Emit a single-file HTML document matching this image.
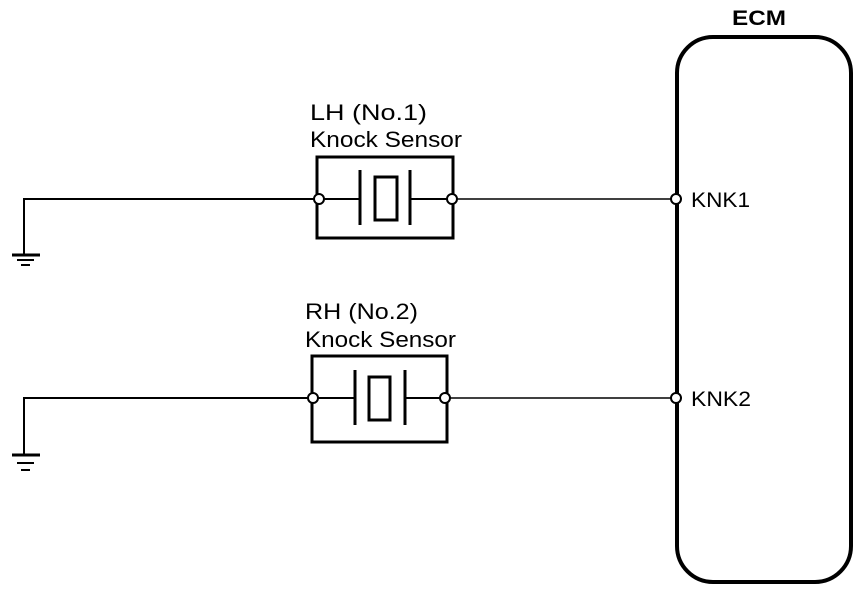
<!DOCTYPE html>
<html><head><style>
html,body{margin:0;padding:0;background:#fff;}
svg{display:block;}
text{font-family:"Liberation Sans",Arial,sans-serif;fill:#000;}
</style></head><body>
<svg width="864" height="592" viewBox="0 0 864 592" xmlns="http://www.w3.org/2000/svg">
<g fill="none" stroke="#000">
<rect x="677" y="37" width="174" height="545" rx="36" ry="36" stroke-width="4"/>
<path d="M24 255 V199 H316" stroke-width="2"/>
<line x1="456" y1="199" x2="672" y2="199" stroke-width="1.5"/>
<rect x="317" y="157" width="136" height="81" stroke-width="3"/>
<line x1="323" y1="199" x2="359" y2="199" stroke-width="2"/>
<line x1="410" y1="199" x2="448" y2="199" stroke-width="2"/>
<line x1="360" y1="170" x2="360" y2="225" stroke-width="3"/>
<line x1="410" y1="170" x2="410" y2="225" stroke-width="3"/>
<rect x="375" y="177" width="22" height="43" stroke-width="3"/>
<circle cx="319" cy="199" r="5" fill="#fff" stroke-width="2"/>
<circle cx="452" cy="199" r="5" fill="#fff" stroke-width="2"/>
<circle cx="676" cy="199" r="5" fill="#fff" stroke-width="2"/>
<line x1="12" y1="255" x2="40" y2="255" stroke-width="3"/>
<line x1="17" y1="260" x2="34" y2="260" stroke-width="2"/>
<line x1="21" y1="265" x2="30" y2="265" stroke-width="2"/>
<path d="M24 455 V398 H310" stroke-width="2"/>
<line x1="450" y1="398" x2="672" y2="398" stroke-width="1.5"/>
<rect x="312" y="356" width="135" height="86" stroke-width="3"/>
<line x1="318" y1="398" x2="355" y2="398" stroke-width="2"/>
<line x1="405" y1="398" x2="442" y2="398" stroke-width="2"/>
<line x1="355" y1="370" x2="355" y2="425" stroke-width="3"/>
<line x1="405" y1="370" x2="405" y2="425" stroke-width="3"/>
<rect x="369" y="377" width="21" height="43" stroke-width="3"/>
<circle cx="313" cy="398" r="5" fill="#fff" stroke-width="2"/>
<circle cx="445" cy="398" r="5" fill="#fff" stroke-width="2"/>
<circle cx="676" cy="398" r="5" fill="#fff" stroke-width="2"/>
<line x1="12" y1="455" x2="40" y2="455" stroke-width="3"/>
<line x1="17" y1="463" x2="34" y2="463" stroke-width="2"/>
<line x1="21" y1="470" x2="30" y2="470" stroke-width="2"/>
</g>
<text x="732" y="25" font-size="21" font-weight="bold" textLength="54" lengthAdjust="spacingAndGlyphs">ECM</text>
<text x="310" y="120" font-size="22" textLength="117" lengthAdjust="spacingAndGlyphs">LH (No.1)</text>
<text x="310" y="147" font-size="22" textLength="152" lengthAdjust="spacingAndGlyphs">Knock Sensor</text>
<text x="305" y="319" font-size="22" textLength="113" lengthAdjust="spacingAndGlyphs">RH (No.2)</text>
<text x="305" y="347" font-size="22" textLength="151" lengthAdjust="spacingAndGlyphs">Knock Sensor</text>
<text x="691" y="207" font-size="21" textLength="59" lengthAdjust="spacingAndGlyphs">KNK1</text>
<text x="691" y="406" font-size="21" textLength="60" lengthAdjust="spacingAndGlyphs">KNK2</text>
</svg>
</body></html>
